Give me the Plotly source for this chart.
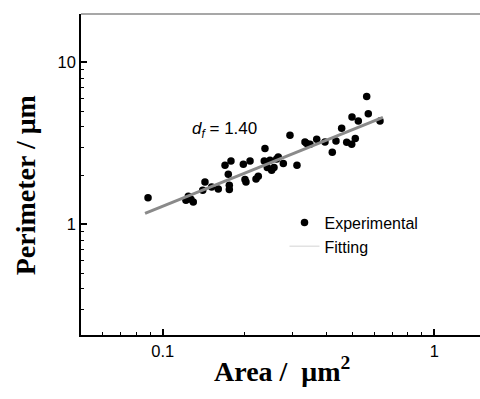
import plotly.graph_objects as go
import math

# Experimental data (area in um^2, perimeter in um)
area = [0.0883, 0.1243, 0.1218, 0.1296, 0.1270, 0.1431, 0.1404, 0.1515, 0.1602,
        0.1696, 0.1784, 0.1744, 0.1759, 0.1759, 0.1981, 0.2097, 0.2009, 0.2026,
        0.2206, 0.2249, 0.2380, 0.2366, 0.2427, 0.2519, 0.2569, 0.2483, 0.2628,
        0.2664, 0.2780, 0.2942, 0.3122, 0.3341, 0.3390, 0.3486, 0.3690, 0.3958,
        0.4211, 0.4345, 0.4560, 0.4759, 0.4965, 0.5118, 0.4977, 0.5251, 0.5638,
        0.5715, 0.6311]
perimeter = [1.46, 1.494, 1.411, 1.378, 1.43, 1.830, 1.626, 1.704, 1.657,
             2.320, 2.465, 2.041, 1.747, 1.643, 2.352, 2.465, 1.894, 1.830,
             1.910, 1.984, 2.939, 2.465, 2.245, 2.160, 2.245, 2.489, 2.536,
             2.609, 2.376, 3.550, 2.320, 3.228, 3.156, 3.124, 3.354, 3.228,
             2.790, 3.274, 3.921, 3.215, 3.124, 3.388, 4.603, 4.348, 6.172,
             4.816, 4.348]

# Fitted line endpoints
fit_area = [0.0861, 0.647]
fit_perimeter = [1.17, 4.58]

x_ticks = [0.1, 1]
x_tick_text = ["0.1", "1"]
y_ticks = [1, 10]
y_tick_text = ["1", "10"]

sans = "Liberation Sans, Arial, sans-serif"
serif = "Liberation Serif, Times New Roman, serif"

fig = go.Figure()
fig.add_trace(go.Scatter(
    x=area, y=perimeter, mode="markers", name="Experimental",
    marker=dict(color="black", size=7.5, line=dict(width=0))))
fig.add_trace(go.Scatter(
    x=fit_area, y=fit_perimeter, mode="lines", name="Fitting",
    line=dict(color="#8a8a8a", width=3), showlegend=False))
# legend entry for the fit (the original legend shows a faint glyph)
fig.add_trace(go.Scatter(
    x=[None], y=[None], mode="lines", name="Fitting",
    line=dict(color="#e2e2e2", width=1.5)))

x_range = [-1.3008, 0.1683]
y_range = [-0.682, 1.2988]

fig.update_layout(
    width=480, height=399,
    margin=dict(l=81, r=0, t=14, b=64),
    paper_bgcolor="white", plot_bgcolor="white",
    showlegend=True,
    legend=dict(x=0.51, y=0.403, xanchor="left", yanchor="top",
                bgcolor="rgba(0,0,0,0)", font=dict(family=sans, size=16, color="black"),
                itemwidth=30, tracegroupgap=0),
    xaxis=dict(type="log", range=x_range, showgrid=False, zeroline=False,
               showline=True, linecolor="black", linewidth=1.5, mirror=False,
               ticks="inside", ticklen=6, tickwidth=1.5, tickcolor="black",
               tickvals=x_ticks, ticktext=x_tick_text,
               tickfont=dict(family=sans, size=16.5, color="black"),
               minor=dict(ticks="inside", ticklen=3, tickwidth=1, tickcolor="black",
                          tickvals=[0.06, 0.07, 0.08, 0.09, 0.2, 0.3, 0.4, 0.5, 0.6, 0.7, 0.8, 0.9],
                          showgrid=False)),
    yaxis=dict(type="log", range=y_range, showgrid=False, zeroline=False,
               showline=True, linecolor="black", linewidth=1.5, mirror=False,
               ticks="inside", ticklen=6, tickwidth=1.5, tickcolor="black",
               tickvals=y_ticks, ticktext=y_tick_text,
               tickfont=dict(family=sans, size=16.5, color="black"),
               minor=dict(ticks="inside", ticklen=3.5, tickwidth=1, tickcolor="black",
                          tickvals=[0.3, 0.4, 0.5, 0.6, 0.7, 0.8, 0.9, 2, 3, 4, 5, 6, 7, 8, 9],
                          showgrid=False)),
)

# top frame line (gray)
fig.add_shape(type="line", xref="paper", yref="paper", x0=0, x1=1, y0=1, y1=1,
              line=dict(color="#8a8a8a", width=1.5))

fig.add_annotation(text="<i>d</i><sub><i>f</i></sub> = 1.40", xref="x", yref="y",
                   x=math.log10(0.169), y=math.log10(3.85), showarrow=False,
                   font=dict(family=sans, size=17, color="black"))

fig.add_annotation(text="<b>Area /  \u03bcm<sup>2</sup></b>", xref="paper", yref="paper",
                   x=(282 - 81) / 399, y=(335 - 370) / 321.5, xanchor="center", yanchor="middle",
                   showarrow=False, font=dict(family=serif, size=28, color="black"))
fig.add_annotation(text="<b>Perimeter / \u03bcm</b>", xref="paper", yref="paper",
                   x=(25 - 81) / 399, y=(335 - 185) / 321.5, xanchor="center", yanchor="middle",
                   textangle=-90, showarrow=False,
                   font=dict(family=serif, size=28, color="black"))

fig.write_html("out.html")
